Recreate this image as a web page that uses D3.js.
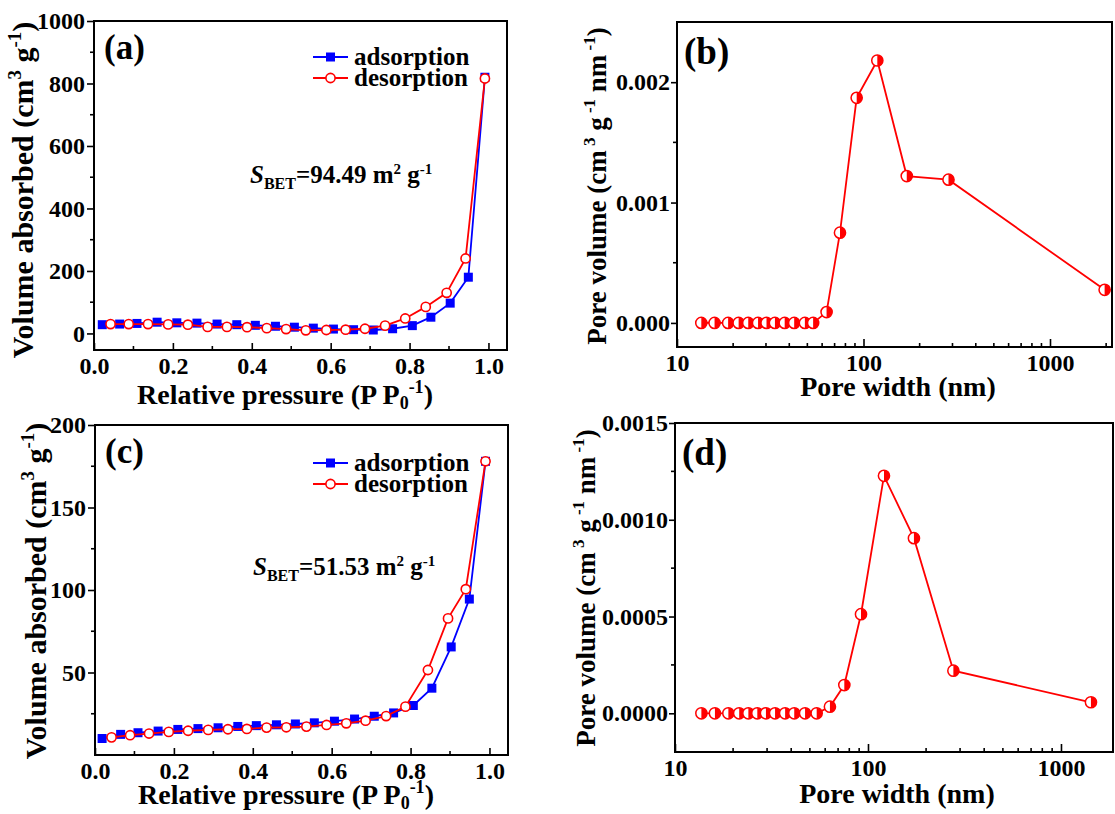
<!DOCTYPE html>
<html>
<head>
<meta charset="utf-8">
<script src="https://cdn.jsdelivr.net/npm/d3@7"></script>
<style>
  body { margin: 0; background: #fff; }
  svg text { font-family: "Liberation Serif", "Times New Roman", serif; font-weight: bold; }
</style>
</head>
<body>
<div id="chart"></div>
<script>
// ---- data ----
// (a) isotherm, sample 1
var adsP_a = [0.021, 0.065, 0.109, 0.16, 0.21, 0.261, 0.312, 0.362, 0.409, 0.46, 0.508, 0.556, 0.607, 0.658, 0.708, 0.757, 0.807, 0.854, 0.903, 0.949, 0.991];
var adsV_a = [28, 30, 32, 36, 34, 33, 30, 28, 26, 23, 20, 17, 14, 12, 11, 15, 25, 52, 97, 180, 820];
var desP_a = [0.042, 0.088, 0.137, 0.188, 0.238, 0.288, 0.337, 0.388, 0.438, 0.487, 0.537, 0.589, 0.638, 0.687, 0.738, 0.789, 0.841, 0.894, 0.942, 0.991];
var desV_a = [30, 30, 30, 29, 28, 21, 21, 20, 17, 14, 10, 11, 12, 15, 25, 48, 85, 130, 240, 816];

// (c) isotherm, sample 2
var adsP_c = [0.018, 0.065, 0.109, 0.16, 0.21, 0.261, 0.312, 0.362, 0.409, 0.46, 0.508, 0.556, 0.607, 0.658, 0.708, 0.757, 0.807, 0.854, 0.903, 0.949, 0.99];
var adsV_c = [10, 12.5, 13.5, 14.5, 15.5, 16, 16.5, 17.3, 17.8, 18.3, 18.8, 19.5, 20.5, 21.8, 23.5, 25.5, 30, 40.5, 65.5, 94.5, 178];
var desP_c = [0.042, 0.089, 0.137, 0.187, 0.236, 0.287, 0.337, 0.385, 0.435, 0.485, 0.536, 0.587, 0.637, 0.686, 0.738, 0.787, 0.844, 0.895, 0.94, 0.99];
var desV_c = [10.7, 12, 13, 14, 14.7, 15.2, 15.6, 15.8, 16.6, 16.8, 17.2, 18.2, 19.2, 20.8, 23.6, 29.3, 51.5, 82.8, 100.5, 178];

// (b) pore size distribution, sample 1
var width_b = [13.5, 15.9, 18.8, 21.4, 24.1, 27.2, 30.2, 33.5, 37.8, 42.5, 48.5, 53.7, 63.4, 74.8, 91.9, 118.6, 170.6, 285.6, 1963];
var vol_b = [0, 0, 0, 0, 0, 0, 0, 0, 0, 0, 0, 0, 0.00009, 0.00075, 0.00187, 0.00218, 0.00122, 0.00119, 0.000275];

// (d) pore size distribution, sample 2
var width_d = [13.7, 16.1, 18.9, 21.5, 24.0, 26.7, 29.6, 33.0, 37.2, 41.5, 47.2, 54.2, 63.5, 75.4, 92.0, 121, 173, 277, 1430];
var vol_d = [0, 0, 0, 0, 0, 0, 0, 0, 0, 0, 0, 0, 0.000034, 0.000146, 0.000512, 0.001227, 0.000905, 0.00022, 0.000057];

var isoTicksX = [0.0, 0.2, 0.4, 0.6, 0.8, 1.0];
var isoTicksY_a = [0, 200, 400, 600, 800, 1000];
var isoTicksY_c = [50, 100, 150, 200];
var poreTicksX = [10, 100, 1000];
var poreTicksY_b = [0, 0.001, 0.002];
var poreTicksY_d = [0, 0.0005, 0.0010, 0.0015];

var BLUE = "#0000ff", RED = "#ff0000";

var svg = d3.select("#chart").append("svg")
    .attr("width", 1115)
    .attr("height", 814);

function frame(g, w, h) {
  g.append("rect")
    .attr("width", w).attr("height", h)
    .attr("fill", "none").attr("stroke", "#000").attr("stroke-width", 2);
}

function styleAxis(ax, fs) {
  ax.select(".domain").remove();
  ax.selectAll(".tick line").attr("stroke", "#000").attr("stroke-width", 1.6);
  ax.selectAll(".tick text").attr("font-size", fs).attr("fill", "#000");
}

function minorTicks(g, vals, pos, len, horiz, h) {
  // horiz: ticks on bottom axis pointing up; else left axis pointing left
  g.selectAll(null).data(vals).enter().append("line")
    .attr("x1", function(d) { return horiz ? pos(d) : 0; })
    .attr("x2", function(d) { return horiz ? pos(d) : -len; })
    .attr("y1", function(d) { return horiz ? h : pos(d); })
    .attr("y2", function(d) { return horiz ? h - len : pos(d); })
    .attr("stroke", "#000").attr("stroke-width", 1.6);
}

function isoPanel(o) {
  var w = o.w, h = o.h;
  var g = svg.append("g").attr("transform", "translate(" + o.x + "," + o.y + ")");
  var x = d3.scaleLinear().domain([0, 1.047]).range([0, w]);
  var y = d3.scaleLinear().domain(o.ydom).range([h, 0]);

  var ax = g.append("g").attr("transform", "translate(0," + h + ")")
    .call(d3.axisBottom(x).tickValues(isoTicksX).tickSize(-7).tickPadding(7).tickFormat(d3.format(".1f")));
  styleAxis(ax, 24);
  minorTicks(g, [0.1, 0.3, 0.5, 0.7, 0.9], x, 4, true, h);

  var ay = g.append("g")
    .call(d3.axisLeft(y).tickValues(o.yticks).tickSize(7).tickPadding(2).tickFormat(d3.format("d")));
  styleAxis(ay, 24);
  minorTicks(g, o.yminor, y, 4, false, h);

  var line = d3.line().x(function(d) { return x(d[0]); }).y(function(d) { return y(d[1]); });
  var ads = d3.zip(o.adsP, o.adsV), des = d3.zip(o.desP, o.desV);

  g.append("path").datum(ads).attr("d", line)
    .attr("fill", "none").attr("stroke", BLUE).attr("stroke-width", 1.8);
  g.selectAll(".sq").data(ads).enter().append("rect")
    .attr("x", function(d) { return x(d[0]) - 4.5; })
    .attr("y", function(d) { return y(d[1]) - 4.5; })
    .attr("width", 9).attr("height", 9).attr("fill", BLUE);

  g.append("path").datum(des).attr("d", line)
    .attr("fill", "none").attr("stroke", RED).attr("stroke-width", 1.8);
  g.selectAll(".ci").data(des).enter().append("circle")
    .attr("cx", function(d) { return x(d[0]); })
    .attr("cy", function(d) { return y(d[1]); })
    .attr("r", 4.6).attr("fill", "#fff").attr("stroke", RED).attr("stroke-width", 1.6);

  frame(g, w, h);

  // legend
  var lg = g.append("g").attr("transform", "translate(" + (313 - o.x) + "," + (o.legY - o.y) + ")");
  lg.append("line").attr("x1", 0).attr("x2", 35).attr("y1", 0).attr("y2", 0).attr("stroke", BLUE).attr("stroke-width", 1.8);
  lg.append("rect").attr("x", 13).attr("y", -4.5).attr("width", 9).attr("height", 9).attr("fill", BLUE);
  lg.append("line").attr("x1", 0).attr("x2", 35).attr("y1", 21).attr("y2", 21).attr("stroke", RED).attr("stroke-width", 1.8);
  lg.append("circle").attr("cx", 17.5).attr("cy", 21).attr("r", 4.6).attr("fill", "#fff").attr("stroke", RED).attr("stroke-width", 1.6);
  lg.append("text").attr("x", 41).attr("y", 0).attr("dy", "0.3em").attr("font-size", 25).text("adsorption");
  lg.append("text").attr("x", 41).attr("y", 21).attr("dy", "0.3em").attr("font-size", 25).text("desorption");

  // panel label
  g.append("text").attr("x", 10).attr("y", 38).attr("font-size", 35).text(o.label);

  // S_BET
  var t = svg.append("text").attr("x", o.sx).attr("y", o.sy).attr("font-size", 25);
  t.append("tspan").attr("font-style", "italic").text("S");
  t.append("tspan").attr("font-size", 16).attr("dy", 6).text("BET");
  t.append("tspan").attr("dy", -6).text("=" + o.sbet + " m");
  t.append("tspan").attr("font-size", 15).attr("dy", -9).text("2");
  t.append("tspan").attr("dy", 9).text(" g");
  t.append("tspan").attr("font-size", 15).attr("dy", -9).text("-1");

  // x title
  var xt = svg.append("text").attr("x", o.x + o.xtX).attr("y", o.xtY).attr("text-anchor", "middle").attr("font-size", 28);
  xt.append("tspan").text("Relative pressure (P P");
  xt.append("tspan").attr("font-size", 18).attr("dy", 5).text("0");
  xt.append("tspan").attr("font-size", 18).attr("dy", -16).text("-1");
  xt.append("tspan").attr("dy", 11).text(")");

  // y title
  var yt = svg.append("text").attr("transform", "translate(" + o.ytX + "," + o.ytY + ") rotate(-90)")
    .attr("text-anchor", "middle").attr("font-size", 30);
  yt.append("tspan").text("Volume absorbed (cm");
  yt.append("tspan").attr("font-size", 19).attr("dy", -12).text("3");
  yt.append("tspan").attr("dy", 12).text(" g");
  yt.append("tspan").attr("font-size", 19).attr("dy", -12).text("-1");
  yt.append("tspan").attr("dy", 12).text(")");
}

function halfCircle(sel, x, y) {
  var r = 5.6;
  var m = sel.append("g").attr("transform", function(d) { return "translate(" + x(d[0]) + "," + y(d[1]) + ")"; });
  m.append("circle").attr("r", r).attr("fill", "#fff").attr("stroke", RED).attr("stroke-width", 1.5);
  m.append("path").attr("d", "M0," + (-r) + " A" + r + "," + r + " 0 0 1 0," + r + " Z").attr("fill", RED);
}

function porePanel(o) {
  var w = o.w, h = o.h;
  var g = svg.append("g").attr("transform", "translate(" + o.x + "," + o.y + ")");
  var x = d3.scaleLog().domain([10, o.xmax]).range([0, w]);
  var y = d3.scaleLinear().domain(o.ydom).range([h, 0]);

  var ax = g.append("g").attr("transform", "translate(0," + h + ")")
    .call(d3.axisBottom(x).tickValues(poreTicksX).tickSize(-8).tickPadding(7).tickFormat(d3.format("d")));
  styleAxis(ax, 24);
  var minors = [];
  [10, 100, 1000].forEach(function(dec) {
    for (var k = 2; k <= 9; k++) if (dec * k <= o.xmax) minors.push(dec * k);
  });
  minorTicks(g, minors, x, 4, true, h);

  var ay = g.append("g")
    .call(d3.axisLeft(y).tickValues(o.yticks).tickSize(6).tickPadding(1).tickFormat(d3.format(o.yfmt)));
  styleAxis(ay, 24);
  minorTicks(g, o.yminor, y, 4, false, h);

  var line = d3.line().x(function(d) { return x(d[0]); }).y(function(d) { return y(d[1]); });
  var pts = d3.zip(o.px, o.pv);
  g.append("path").datum(pts).attr("d", line)
    .attr("fill", "none").attr("stroke", RED).attr("stroke-width", 1.8);
  halfCircle(g.selectAll(".m").data(pts).enter(), x, y);

  frame(g, w, h);

  g.append("text").attr("x", 7).attr("y", 42).attr("font-size", 37).text(o.label);

  svg.append("text").attr("x", o.x + o.xtX).attr("y", o.xtY).attr("text-anchor", "middle").attr("font-size", 28)
    .text("Pore width (nm)");

  var yt = svg.append("text").attr("transform", "translate(" + o.ytX + "," + o.ytY + ") rotate(-90)")
    .attr("text-anchor", "middle").attr("font-size", 27);
  yt.append("tspan").text("Pore volume (cm");
  yt.append("tspan").attr("font-size", 17).attr("dy", -11).text(" 3");
  yt.append("tspan").attr("dy", 11).text(" g");
  yt.append("tspan").attr("font-size", 17).attr("dy", -11).text(" -1");
  yt.append("tspan").attr("dy", 11).text(" nm");
  yt.append("tspan").attr("font-size", 17).attr("dy", -11).text(" -1");
  yt.append("tspan").attr("dy", 11).text(")");
}

isoPanel({
  x: 94, y: 21, w: 413, h: 329, ydom: [-53, 1000],
  yticks: isoTicksY_a, yminor: [100, 300, 500, 700, 900],
  adsP: adsP_a, adsV: adsV_a, desP: desP_a, desV: desV_a,
  legY: 57, label: "(a)", sbet: "94.49", sx: 250, sy: 183,
  xtX: 191, xtY: 404, ytX: 33, ytY: 190
});

isoPanel({
  x: 95, y: 425, w: 413, h: 330, ydom: [0, 200],
  yticks: isoTicksY_c, yminor: [25, 75, 125, 175],
  adsP: adsP_c, adsV: adsV_c, desP: desP_c, desV: desV_c,
  legY: 463, label: "(c)", sbet: "51.53", sx: 253, sy: 575,
  xtX: 191, xtY: 804, ytX: 46, ytY: 591
});

porePanel({
  x: 677, y: 22, w: 435, h: 325, xmax: 2150, ydom: [-0.0002, 0.0025],
  yticks: poreTicksY_b, yminor: [0.0005, 0.0015], yfmt: ".3f",
  px: width_b, pv: vol_b, label: "(b)",
  xtX: 221, xtY: 396, ytX: 606, ytY: 186
});

porePanel({
  x: 675, y: 423, w: 438, h: 329, xmax: 1860, ydom: [-0.0002, 0.0015],
  yticks: poreTicksY_d, yminor: [0.00025, 0.00075, 0.00125], yfmt: ".4f",
  px: width_d, pv: vol_d, label: "(d)",
  xtX: 222, xtY: 803, ytX: 595, ytY: 588
});
</script>
</body>
</html>
